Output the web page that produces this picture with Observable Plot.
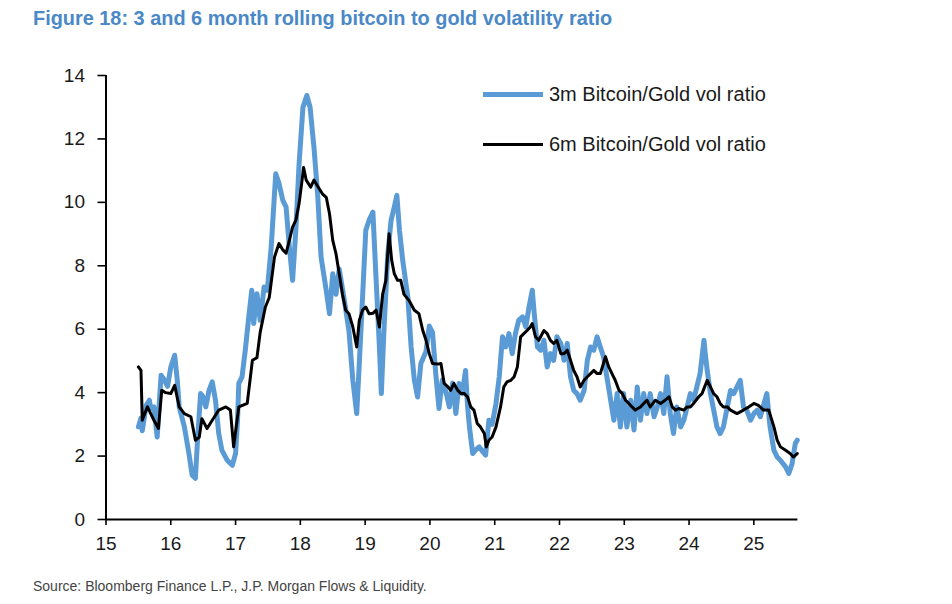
<!DOCTYPE html>
<html>
<head>
<meta charset="utf-8">
<script src="https://cdn.jsdelivr.net/npm/d3@7"></script>
<script src="https://cdn.jsdelivr.net/npm/@observablehq/plot@0.6"></script>
<style>
  html, body { margin: 0; padding: 0; background: #fff; }
  body { width: 952px; height: 604px; position: relative; overflow: hidden; font-family: "Liberation Sans", Arial, sans-serif; }
  #title { position: absolute; left: 33px; top: 8px; line-height: 20px; font-size: 19.9px; font-weight: bold; color: #4a88c7; white-space: nowrap; }
  #chart { position: absolute; left: 0; top: 40px; }
  #caption { position: absolute; left: 33px; top: 578px; line-height: 16px; font-size: 14px; color: #444; white-space: nowrap; }
  .leg { position: absolute; left: 483px; height: 24px; display: flex; align-items: center; font-size: 20px; color: #1a1a1a; white-space: nowrap; }
  .sw { display: inline-block; width: 60px; margin-right: 6px; }
</style>
</head>
<body>
<div id="title">Figure 18: 3 and 6 month rolling bitcoin to gold volatility ratio</div>
<div id="chart"></div>
<div class="leg" style="top:82px"><span class="sw" style="height:5px;background:#5b9bd5"></span><span>3m Bitcoin/Gold vol ratio</span></div>
<div class="leg" style="top:132px"><span class="sw" style="height:3px;background:#000"></span><span>6m Bitcoin/Gold vol ratio</span></div>
<div id="caption">Source: Bloomberg Finance L.P., J.P. Morgan Flows &amp; Liquidity.</div>
<script>
// Tick values / labels
const xTicks = [15, 16, 17, 18, 19, 20, 21, 22, 23, 24, 25];
const xTickLabels = ["15", "16", "17", "18", "19", "20", "21", "22", "23", "24", "25"];
const yTicks = [0, 2, 4, 6, 8, 10, 12, 14];

// 3m Bitcoin/Gold vol ratio (time in years, e.g. 15.5 = mid-2015)
const t3m = [15.50,15.54,15.56,15.62,15.67,15.69,15.74,15.79,15.85,15.90,15.95,16.00,16.06,16.10,16.13,16.21,16.28,16.33,16.38,16.41,16.46,16.49,16.54,16.59,16.64,16.69,16.74,16.79,16.87,16.95,17.00,17.03,17.05,17.10,17.15,17.21,17.25,17.28,17.33,17.38,17.44,17.49,17.55,17.62,17.67,17.73,17.78,17.83,17.88,17.93,17.98,18.04,18.10,18.15,18.21,18.27,18.32,18.40,18.45,18.50,18.55,18.60,18.68,18.75,18.81,18.87,18.91,18.96,19.01,19.06,19.12,19.17,19.22,19.25,19.29,19.35,19.40,19.45,19.49,19.53,19.58,19.66,19.71,19.76,19.81,19.86,19.94,19.99,20.04,20.09,20.14,20.19,20.25,20.30,20.35,20.40,20.45,20.50,20.55,20.58,20.61,20.66,20.71,20.76,20.81,20.86,20.91,20.96,21.02,21.07,21.12,21.17,21.22,21.27,21.32,21.37,21.43,21.48,21.53,21.58,21.61,21.66,21.71,21.76,21.81,21.86,21.91,21.96,22.02,22.07,22.12,22.17,22.22,22.27,22.32,22.38,22.43,22.48,22.53,22.58,22.63,22.68,22.74,22.79,22.84,22.89,22.94,22.99,23.04,23.10,23.15,23.20,23.25,23.30,23.35,23.40,23.46,23.51,23.56,23.61,23.66,23.71,23.76,23.81,23.87,23.92,23.97,24.02,24.07,24.12,24.17,24.23,24.25,24.28,24.33,24.38,24.43,24.48,24.53,24.59,24.64,24.69,24.74,24.79,24.84,24.89,24.95,25.00,25.05,25.10,25.20,25.25,25.31,25.36,25.41,25.49,25.54,25.59,25.64,25.67];
const v3m = [2.92,3.2,2.8,3.6,3.76,3.5,3.55,2.6,4.55,4.4,4.2,4.8,5.18,4.4,3.55,2.92,2.08,1.4,1.3,2.4,3.97,3.9,3.55,4.07,4.34,3.76,2.71,2.18,1.87,1.71,2.08,3.13,4.29,4.5,5.34,6.5,7.23,6.18,7.12,6.28,7.33,7.23,8.59,10.9,10.6,10.06,9.85,8.6,7.54,9.12,11.2,13.0,13.37,13.0,11.74,10.16,8.27,7.22,6.49,7.75,7.1,7.9,6.9,5.95,4.39,3.34,4.92,7.0,9.12,9.43,9.69,7.54,5.44,3.97,5.95,8.38,9.43,9.85,10.22,9.12,8.17,7.0,5.44,4.39,3.86,4.92,5.3,6.1,5.9,4.6,3.5,4.39,4.0,3.55,4.3,3.34,4.29,3.97,4.7,3.6,2.92,2.08,2.2,2.29,2.15,2.03,3.13,3.0,3.66,4.5,5.76,5.44,5.86,5.23,5.86,6.28,6.39,6.07,6.7,7.23,6.5,5.44,5.34,5.65,4.81,5.23,5.02,5.76,5.55,5.02,5.55,4.5,4.07,3.97,3.76,4.07,5.02,5.44,5.34,5.76,5.44,5.13,4.39,3.76,3.13,3.97,2.92,3.97,2.92,3.76,2.82,4.18,3.13,3.97,3.34,3.97,3.24,3.55,3.97,3.34,4.5,3.34,2.71,3.55,2.92,3.13,3.55,3.97,3.76,4.18,4.6,5.65,5.23,4.7,3.97,3.45,2.92,2.71,2.92,3.55,4.07,3.97,4.18,4.39,3.55,3.45,3.13,3.34,3.45,3.24,3.97,2.92,2.18,1.97,1.87,1.66,1.45,1.76,2.4,2.5];

// 6m Bitcoin/Gold vol ratio
const t6m = [15.50,15.54,15.56,15.59,15.64,15.69,15.74,15.81,15.86,15.92,16.00,16.06,16.13,16.21,16.31,16.38,16.44,16.48,16.56,16.64,16.74,16.85,16.92,16.97,17.05,17.18,17.26,17.33,17.38,17.46,17.52,17.60,17.67,17.73,17.78,17.83,17.88,17.93,17.98,18.02,18.05,18.09,18.16,18.21,18.27,18.34,18.40,18.45,18.50,18.55,18.60,18.65,18.70,18.75,18.81,18.87,18.91,18.96,19.01,19.06,19.12,19.17,19.22,19.27,19.32,19.37,19.41,19.45,19.50,19.55,19.60,19.68,19.76,19.83,19.89,19.94,19.99,20.04,20.12,20.17,20.22,20.27,20.32,20.37,20.43,20.48,20.53,20.58,20.63,20.68,20.73,20.78,20.84,20.87,20.91,20.96,21.02,21.09,21.14,21.19,21.25,21.30,21.35,21.40,21.45,21.50,21.55,21.58,21.63,21.68,21.76,21.81,21.86,21.91,21.96,22.02,22.07,22.12,22.17,22.22,22.27,22.32,22.38,22.43,22.48,22.53,22.58,22.63,22.71,22.76,22.81,22.86,22.92,22.97,23.02,23.07,23.12,23.17,23.25,23.30,23.35,23.40,23.48,23.56,23.63,23.69,23.74,23.79,23.84,23.92,23.97,24.02,24.07,24.15,24.20,24.28,24.33,24.38,24.43,24.48,24.53,24.59,24.64,24.74,24.84,24.92,25.00,25.07,25.15,25.23,25.31,25.36,25.41,25.49,25.56,25.61,25.67];
const v6m = [4.81,4.7,3.13,3.3,3.55,3.34,3.13,2.87,4.07,4.0,3.97,4.23,3.55,3.34,3.24,2.5,2.6,3.18,2.87,3.13,3.45,3.55,3.45,2.29,3.55,3.66,5.02,5.1,5.9,6.7,7.0,8.27,8.7,8.5,8.4,8.8,9.22,9.43,9.96,10.59,11.1,10.7,10.48,10.7,10.5,10.27,10.16,9.64,8.8,8.38,7.75,7.1,6.6,6.49,6.07,5.44,6.28,6.6,6.7,6.49,6.5,6.6,6.07,7.1,7.54,9.01,8.17,7.75,7.54,7.54,7.1,6.9,6.6,6.49,5.96,5.65,5.23,4.92,4.9,4.92,4.29,4.2,4.07,4.29,4.07,3.97,3.97,3.87,3.55,3.45,3.03,2.92,2.71,2.29,2.5,2.6,2.92,3.55,4.18,4.34,4.39,4.5,4.81,5.76,5.86,5.96,6.07,6.18,5.76,5.65,5.96,5.86,5.65,5.55,5.65,5.23,5.23,5.34,5.02,4.7,4.5,4.18,4.39,4.5,4.6,4.7,4.6,4.6,5.13,4.81,4.6,4.39,4.07,3.97,3.76,3.66,3.55,3.45,3.55,3.66,3.76,3.55,3.76,3.66,3.76,3.87,3.55,3.45,3.5,3.45,3.55,3.55,3.66,3.87,3.97,4.39,4.18,3.97,3.87,3.66,3.55,3.55,3.45,3.34,3.45,3.55,3.66,3.6,3.45,3.45,2.92,2.5,2.29,2.18,2.08,1.97,2.08];

const data3m = t3m.map((t, i) => ({t, v: v3m[i]}));
const data6m = t6m.map((t, i) => ({t, v: v6m[i]}));

const chart = Plot.plot({
  width: 952,
  height: 519,
  marginTop: 35,
  marginBottom: 40,
  marginLeft: 105.5,
  marginRight: 154.6,
  style: {fontFamily: "'Liberation Sans', Arial, sans-serif", fontSize: "19px", color: "#1a1a1a", background: "#fff", overflow: "visible"},
  x: {domain: [15, 25.68]},
  y: {domain: [0, 14]},
  marks: [
    Plot.axisY({ticks: yTicks, tickSize: 8, tickPadding: 13, label: null, strokeWidth: 1.6, stroke: "#000", fill: "#1a1a1a", fontSize: 19}),
    Plot.axisX({ticks: xTicks, tickSize: 6, tickPadding: 11, label: null, tickFormat: (d) => xTickLabels[xTicks.indexOf(d)], strokeWidth: 1.6, stroke: "#000", fill: "#1a1a1a", fontSize: 19}),
    Plot.line(data3m, {x: "t", y: "v", stroke: "#5b9bd5", strokeWidth: 5, strokeLinejoin: "round"}),
    Plot.line(data6m, {x: "t", y: "v", stroke: "#000", strokeWidth: 3, strokeLinejoin: "round"}),
    Plot.ruleX([15], {stroke: "#000", strokeWidth: 2}),
    Plot.ruleY([0], {stroke: "#000", strokeWidth: 2})
  ]
});
document.getElementById("chart").appendChild(chart);
</script>
</body>
</html>
